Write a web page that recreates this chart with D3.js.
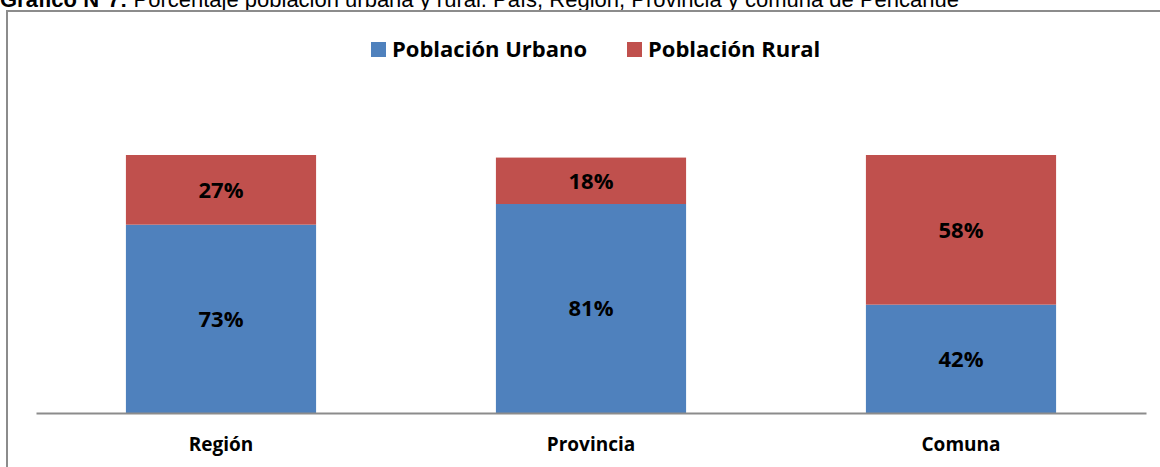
<!DOCTYPE html>
<html>
<head>
<meta charset="utf-8">
<script src="https://cdn.jsdelivr.net/npm/d3@7"></script>
<style>
  body { margin: 0; background: #fff; }
  svg { display: block; }
</style>
</head>
<body>
<svg width="1160" height="467"></svg>
<script>
var svg = d3.select('svg');

// data
var categories = ['Región', 'Provincia', 'Comuna'];
var urbano = [73, 81, 42];
var rural = [27, 18, 58];
var seriesNames = ['Población Urbano', 'Población Rural'];
var colors = ['#4f81bd', '#c0504d'];

// title (cut at the top in the original)
var title = svg.append('text')
    .attr('x', 0)
    .attr('y', 7)
    .style('font-family', 'Liberation Sans, Arial, sans-serif')
    .style('font-size', '22px');
title.append('tspan').style('font-weight', 'bold').text('Gráfico N°7: ');
title.append('tspan').text('Porcentaje población urbana y rural. País, Región, Provincia y comuna de Pencahue');

// frame
svg.append('rect')
    .attr('x', 7)
    .attr('y', 11)
    .attr('width', 1200)
    .attr('height', 500)
    .attr('fill', 'none')
    .attr('stroke', '#8c8c8c')
    .attr('stroke-width', 2);

var x = d3.scaleBand()
    .domain(categories)
    .range([36, 1146])
    .paddingInner(0.486)
    .paddingOuter(0.243);

var y = d3.scaleLinear()
    .domain([0, 100])
    .range([413, 155]);

var rows = categories.map(function(c, i){
    return {cat: c, urbano: urbano[i], rural: rural[i]};
});
var stack = d3.stack().keys(['urbano', 'rural'])(rows);

var groups = svg.selectAll('g.serie')
    .data(stack)
    .enter()
    .append('g')
    .attr('class', 'serie')
    .attr('fill', function(d, i){ return colors[i]; });

groups.selectAll('rect')
    .data(function(d){ return d; })
    .enter()
    .append('rect')
    .attr('x', function(d){ return x(d.data.cat); })
    .attr('y', function(d){ return y(d[1]); })
    .attr('width', x.bandwidth())
    .attr('height', function(d){ return y(d[0]) - y(d[1]); });

groups.selectAll('text')
    .data(function(d){ return d; })
    .enter()
    .append('text')
    .attr('x', function(d){ return x(d.data.cat) + x.bandwidth() / 2; })
    .attr('y', function(d){ return (y(d[0]) + y(d[1])) / 2; })
    .attr('dy', '0.36em')
    .attr('text-anchor', 'middle')
    .attr('fill', '#000')
    .style('font-family', 'Open Sans, sans-serif')
    .style('font-weight', 'bold')
    .style('font-size', '22px')
    .text(function(d){ return (d[1] - d[0]) + '%'; });

// axis
var xAxis = svg.append('g')
    .attr('transform', 'translate(0,413)')
    .call(d3.axisBottom(x).tickSize(0).tickPadding(25));
xAxis.select('.domain').attr('stroke', '#8c8c8c').attr('stroke-width', 2);
xAxis.selectAll('text')
    .attr('fill', '#000')
    .style('font-family', 'Open Sans, sans-serif')
    .style('font-weight', 'bold')
    .style('font-size', '19px');

// legend
var legendX = [371, 627];
var legend = svg.selectAll('g.legend')
    .data(seriesNames)
    .enter()
    .append('g')
    .attr('class', 'legend')
    .attr('transform', function(d, i){ return 'translate(' + legendX[i] + ',42)'; });
legend.append('rect')
    .attr('width', 15)
    .attr('height', 15)
    .attr('fill', function(d, i){ return colors[i]; });
legend.append('text')
    .attr('x', 21)
    .attr('y', 15)
    .style('font-family', 'Open Sans, sans-serif')
    .style('font-weight', 'bold')
    .style('font-size', '22px')
    .text(function(d){ return d; });
</script>
</body>
</html>
